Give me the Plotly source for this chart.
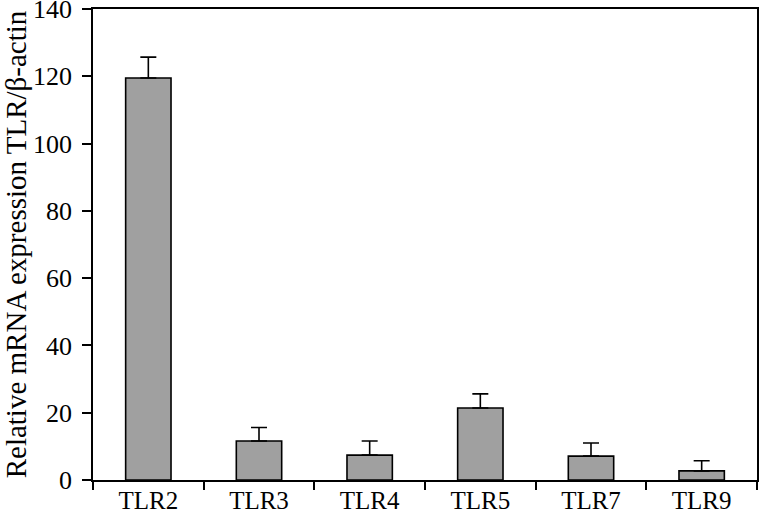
import plotly.graph_objects as go

categories = ["TLR2", "TLR3", "TLR4", "TLR5", "TLR7", "TLR9"]
values = [119.5, 11.6, 7.4, 21.4, 7.1, 2.7]
errors = [6.2, 4.0, 4.2, 4.2, 3.9, 3.0]
y_ticks = [0, 20, 40, 60, 80, 100, 120, 140]

font_family = "Liberation Serif"

fig = go.Figure(
    go.Bar(
        x=categories,
        y=values,
        width=0.41,
        marker=dict(color="#a0a0a0", line=dict(color="black", width=1.6)),
        error_y=dict(
            type="data",
            symmetric=False,
            array=errors,
            arrayminus=[0] * len(errors),
            color="black",
            thickness=1.6,
            width=8,
        ),
    )
)

fig.update_layout(
    width=759,
    height=516,
    margin=dict(l=93, r=2, t=9, b=36, pad=0),
    plot_bgcolor="white",
    paper_bgcolor="white",
    showlegend=False,
    font=dict(family=font_family, color="black", size=26),
)

fig.update_xaxes(
    showline=True,
    linecolor="black",
    linewidth=1.8,
    mirror=True,
    ticks="outside",
    tickson="boundaries",
    ticklen=8,
    tickwidth=1.6,
    tickcolor="black",
    showgrid=False,
    automargin=False,
    ticklabelstandoff=-3,
    tickfont=dict(family=font_family, size=25),
)
fig.update_yaxes(
    range=[0, 140],
    tickvals=y_ticks,
    showline=True,
    linecolor="black",
    linewidth=1.8,
    mirror=True,
    ticks="outside",
    ticklen=9,
    tickwidth=1.6,
    tickcolor="black",
    showgrid=False,
    zeroline=False,
    automargin=False,
    ticklabeloverflow="allow",
    ticklabelstandoff=5,
    tickfont=dict(family=font_family, size=26),
    title=dict(text="Relative mRNA expression TLR/β-actin",
               font=dict(family=font_family, size=29), standoff=10),
)

fig.write_html(
    "out.html",
    config={"displayModeBar": False},
    post_script="document.body.style.margin='0';document.body.style.overflow='hidden';",
)
